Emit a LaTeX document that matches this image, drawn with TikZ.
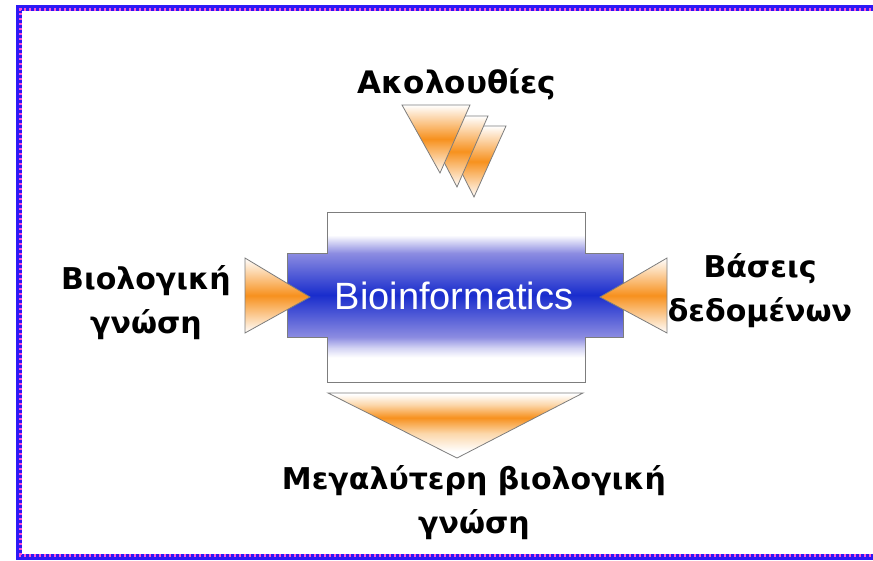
\documentclass[tikz,border=0pt]{standalone}
\usepackage{fontspec}
\setmainfont{DejaVu Sans}
\newfontfamily\arialfont{Liberation Sans}
\definecolor{bluedark}{RGB}{25,45,205}
\definecolor{bluemid}{RGB}{140,140,225}
\definecolor{bluelav}{RGB}{212,212,244}
\definecolor{orng}{RGB}{247,145,30}
\definecolor{orngpale}{RGB}{252,215,170}
\definecolor{edgegrey}{RGB}{125,125,125}
\definecolor{borderblue}{RGB}{45,25,245}
\definecolor{borderpink}{RGB}{255,80,210}
\pgfdeclareverticalshading{blueband}{100bp}{color(0bp)=(white); color(32.2bp)=(white); color(35bp)=(bluelav); color(38.2bp)=(bluemid); color(50.6bp)=(bluedark); color(62.9bp)=(bluemid); color(66.2bp)=(bluelav); color(68.2bp)=(white); color(100bp)=(white)}
\pgfdeclareverticalshading{orangeband}{100bp}{color(0bp)=(white); color(30bp)=(white); color(44bp)=(orngpale); color(56bp)=(orng); color(66bp)=(orngpale); color(74bp)=(white); color(100bp)=(white)}
\tikzset{
  lbl/.style={font=\bfseries\fontsize{30}{44}\selectfont, text=black, inner sep=0pt, align=center},
  tri/.style={draw=edgegrey, line width=0.8pt, shade, top color=white, bottom color=white, middle color=orng},
}
\begin{document}
\begin{tikzpicture}[x=1pt,y=-1pt]
\useasboundingbox (0,0) rectangle (873,560);
% border
\draw[borderblue, line width=6pt] (19,8) rectangle (890,557);
\draw[borderpink, line width=3pt, dash pattern=on 2pt off 3pt] (19,9.5) -- (890,9.5);
\draw[borderpink, line width=3pt, dash pattern=on 2pt off 3pt] (20.5,8) -- (20.5,557);
\draw[borderpink, line width=3pt, dash pattern=on 2pt off 3pt] (19,555.5) -- (890,555.5);
% central cross
\path[shading=blueband, draw=edgegrey, line width=1pt] (327,212) -- (585,212) -- (585,253) -- (623,253) -- (623,337) -- (585,337) -- (585,382) -- (327,382) -- (327,337) -- (287,337) -- (287,253) -- (327,253) -- cycle;
\node[text=white, inner sep=0pt] (bio) at (454,296) {\arialfont\fontsize{38}{40}\selectfont Bioinformatics};
% side triangles
\path[tri] (245,258) -- (310,297) -- (245,333) -- cycle;
\path[tri] (667,258) -- (600,297) -- (667,333) -- cycle;
% top triangles
\path[tri] (438,126) -- (506,126) -- (474,197) -- cycle;
\path[tri] (420,116) -- (488,116) -- (457,187) -- cycle;
\path[tri] (402,105) -- (470,105) -- (440,173) -- cycle;
% bottom triangle
\path[shading=orangeband, draw=edgegrey, line width=0.8pt] (328,393) -- (583,393) -- (457,458) -- cycle;
% labels
\node[lbl, font=\bfseries\fontsize{31}{44}\selectfont] (seq) at (457,84) {Ακολουθίες};
\node[lbl] (bioknow) at (146,303) {Βιολογική\\γνώση};
\node[lbl] (db) at (760,291) {Βάσεις\\δεδομένων};
\node[lbl] (more) at (474,503) {Μεγαλύτερη βιολογική\\γνώση};
\end{tikzpicture}
\end{document}
